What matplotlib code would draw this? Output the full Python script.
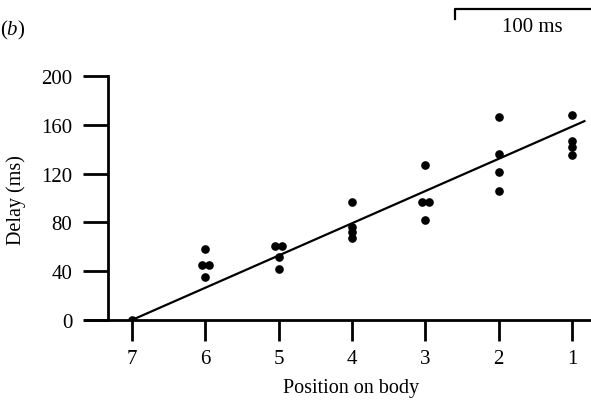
import matplotlib.pyplot as plt
from matplotlib.lines import Line2D

plt.rcParams['font.family'] = ['Liberation Serif', 'DejaVu Serif']
plt.rcParams['mathtext.fontset'] = 'custom'
plt.rcParams['mathtext.it'] = 'Liberation Serif:italic'
plt.rcParams['mathtext.rm'] = 'Liberation Serif'

# delay (ms) measured at each body position
positions = [7, 6, 5, 4, 3, 2, 1]
delays = [
    [0],
    [58, 45, 45, 35],
    [61, 61, 52, 42],
    [97, 76, 72, 67],
    [127, 97, 97, 82],
    [166, 136, 121, 106],
    [168, 147, 142, 135],
]
fit_x = [7, 0.83]
fit_y = [0, 163]

yticks = [0, 40, 80, 120, 160, 200]

W, H = 591, 406
fig = plt.figure(figsize=(W / 100, H / 100), dpi=100)
ax = fig.add_axes([85 / W, 85 / H, (W - 85) / W, 244 / H])

# spread duplicate values sideways like the original plot
xs, ys = [], []
for p, vals in zip(positions, delays):
    seen = {}
    for v in vals:
        seen[v] = seen.get(v, 0) + 1
    for v, n in seen.items():
        for k in range(n):
            off = (k - (n - 1) / 2) * 0.09
            xs.append(p + off)
            ys.append(v)

ax.plot(xs, ys, 'o', color='black', markersize=5.2, zorder=3)
ax.plot(fit_x, fit_y, '-', color='black', lw=1.6, zorder=2)

ax.set_xlim(7.64, 0.74)
ax.set_ylim(0, 200)

for s in ['top', 'right']:
    ax.spines[s].set_visible(False)
ax.spines['left'].set_position(('data', 7.32))
ax.spines['left'].set_linewidth(2)
ax.spines['bottom'].set_linewidth(2)
ax.spines['left'].set_bounds(0, 200)

ax.set_xticks(positions)
ax.set_xticklabels([str(p) for p in positions])
ax.set_yticks(yticks)
ax.set_yticklabels([str(v) for v in yticks])
ax.tick_params(axis='x', direction='out', length=15, width=2, pad=6, labelsize=15)
ax.tick_params(axis='y', direction='out', length=18, width=2, pad=8, labelsize=15)
ax.set_xticks([7, 1], minor=True)
ax.tick_params(axis='x', which='minor', direction='in', length=9, width=2)

fig.text(351 / W, 1 - 389 / H, 'Position on body', ha='center', va='center', fontsize=14.5)
fig.text(16 / W, 1 - 200 / H, 'Delay (ms)', ha='center', va='center', rotation=90, fontsize=14.5)
fig.text(0 / W, 1 - 30 / H, r'($\it{b}$)', ha='left', va='center', fontsize=15)

# scale bar
px = [455 / W, 455 / W, 591 / W]
py = [1 - 20 / H, 1 - 10 / H, 1 - 10 / H]
fig.add_artist(Line2D(px, py, color='black', lw=1.6, transform=fig.transFigure))
fig.text(532 / W, 1 - 28 / H, '100 ms', ha='center', va='center', fontsize=15)

fig.savefig('out.png', dpi=100)
